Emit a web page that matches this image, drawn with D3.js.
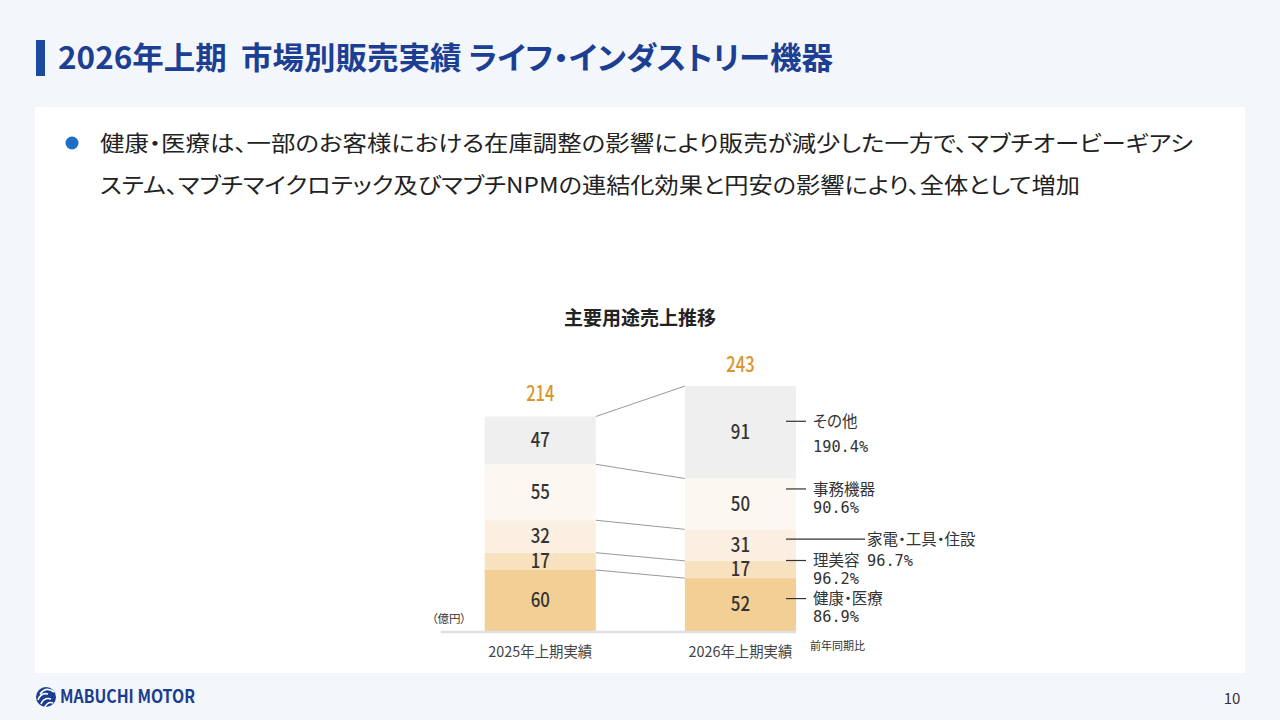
<!DOCTYPE html>
<html lang="ja">
<head>
<meta charset="utf-8">
<script src="https://cdn.jsdelivr.net/npm/d3@7"></script>
<style>
  html, body { margin: 0; padding: 0; background: #f3f6fb; }
  svg { display: block; font-family: "Noto Sans CJK JP", "Noto Sans", sans-serif; }
  svg text { font-feature-settings: "palt"; white-space: pre; }
</style>
</head>
<body>
<div id="chart"></div>
<script>
// data
const periods = ["2025年上期実績", "2026年上期実績"];
const segments = ["健康・医療", "理美容", "家電・工具・住設", "事務機器", "その他"];
const sales2025 = [60, 17, 32, 55, 47];
const sales2026 = [52, 17, 31, 50, 91];
const totals = [214, 243];
const yoyRatio = ["86.9%", "96.2%", "96.7%", "90.6%", "190.4%"];

const colors = ["#f2cf94", "#f7e1be", "#faefe0", "#fcf8f1", "#efefef"];

const width = 1280, height = 720;

const svg = d3.select("#chart").append("svg")
  .attr("width", width)
  .attr("height", height)
  .attr("viewBox", `0 0 ${width} ${height}`);

// page frame
svg.append("rect").attr("width", width).attr("height", height).attr("fill", "#f3f6fb");
svg.append("rect").attr("x", 35).attr("y", 107).attr("width", 1210).attr("height", 566).attr("fill", "#fff");

// heading
svg.append("rect").attr("x", 36).attr("y", 40).attr("width", 9).attr("height", 36).attr("fill", "#1b4aa0");
svg.append("text")
  .attr("x", 58).attr("y", 58).attr("dy", "0.36em")
  .attr("font-size", 31).attr("font-weight", 700).attr("fill", "#1c3f94")
  .attr("textLength", 775).attr("lengthAdjust", "spacingAndGlyphs")
  .text("2026年上期  市場別販売実績 ライフ・インダストリー機器");

// bullet text
svg.append("circle").attr("cx", 72).attr("cy", 143).attr("r", 6.5).attr("fill", "#1d6fc4");
const bodyLines = [
  "健康・医療は、一部のお客様における在庫調整の影響により販売が減少した一方で、マブチオービーギアシ",
  "ステム、マブチマイクロテック及びマブチNPMの連結化効果と円安の影響により、全体として増加"
];
const bodyWidths = [1093, 980];
bodyLines.forEach((t, i) => {
  svg.append("text")
    .attr("x", 100).attr("y", 143 + i * 42).attr("dy", "0.36em")
    .attr("font-size", 22).attr("fill", "#222")
    .attr("textLength", bodyWidths[i]).attr("lengthAdjust", "spacingAndGlyphs")
    .text(t);
});

// chart title
svg.append("text")
  .attr("x", 640).attr("y", 318).attr("dy", "0.36em")
  .attr("text-anchor", "middle")
  .attr("font-size", 19).attr("font-weight", 700).attr("fill", "#222")
  .text("主要用途売上推移");

// scales
const x = d3.scaleBand().domain(periods).range([484.7, 796]).paddingInner(0.445).paddingOuter(0);
const y = d3.scaleLinear().domain([0, 243]).range([631, 384]);

const rows = segments.map((s, i) => ({ segment: s, [periods[0]]: sales2025[i], [periods[1]]: sales2026[i] }));
// cumulative layers per period
const byPeriod = periods.map(p => {
  let acc = 0;
  return rows.map((r, i) => {
    const y0 = acc; acc += r[p];
    return { period: p, segment: r.segment, idx: i, value: r[p], y0, y1: acc };
  });
});

// connector lines between bars (segment tops)
const linkData = segments.map((s, i) => ({ a: byPeriod[0][i].y1, b: byPeriod[1][i].y1 }));
svg.append("g").selectAll("line").data(linkData).join("line")
  .attr("x1", x(periods[0]) + x.bandwidth())
  .attr("x2", x(periods[1]))
  .attr("y1", d => y(d.a))
  .attr("y2", d => y(d.b))
  .attr("stroke", "#999").attr("stroke-width", 1);

// bars
const groups = svg.append("g").selectAll("g").data(byPeriod).join("g");
groups.selectAll("rect").data(d => d).join("rect")
  .attr("x", d => x(d.period))
  .attr("width", x.bandwidth())
  .attr("y", d => y(d.y1))
  .attr("height", d => y(d.y0) - y(d.y1))
  .attr("fill", d => colors[d.idx]);

// narrow digits, like the condensed face on the slide
groups.selectAll("text").data(d => d).join("text")
  .attr("x", d => x(d.period) + x.bandwidth() / 2)
  .attr("y", d => y((d.y0 + d.y1) / 2)).attr("dy", "0.35em")
  .attr("text-anchor", "middle")
  .attr("font-size", 19.5).attr("font-weight", 500).attr("fill", "#333")
  .attr("textLength", d => String(d.value).length * 9.6)
  .attr("lengthAdjust", "spacingAndGlyphs")
  .text(d => d.value);

// totals
svg.append("g").selectAll("text").data(totals).join("text")
  .attr("x", (d, i) => x(periods[i]) + x.bandwidth() / 2)
  .attr("y", d => y(d) - 20).attr("dy", "0.36em")
  .attr("text-anchor", "middle")
  .attr("font-size", 21).attr("font-weight", 500).attr("fill", "#d9962a")
  .attr("textLength", d => String(d).length * 9.4)
  .attr("lengthAdjust", "spacingAndGlyphs")
  .text(d => d);

// baseline
svg.append("line")
  .attr("x1", 441).attr("x2", 796)
  .attr("y1", y(0) + 1).attr("y2", y(0) + 1)
  .attr("stroke", "#e0e0e0").attr("stroke-width", 2.5);

// axis labels
svg.append("g").selectAll("text").data(periods).join("text")
  .attr("x", d => x(d) + x.bandwidth() / 2)
  .attr("y", 652).attr("dy", "0.36em")
  .attr("text-anchor", "middle")
  .attr("font-size", 15).attr("fill", "#444")
  .attr("textLength", 104).attr("lengthAdjust", "spacingAndGlyphs")
  .text(d => d);

svg.append("text")
  .attr("x", 449).attr("y", 619).attr("dy", "0.36em")
  .attr("text-anchor", "middle")
  .attr("font-size", 11.5).attr("fill", "#333")
  .text("（億円）");

svg.append("text")
  .attr("x", 810).attr("y", 646).attr("dy", "0.36em")
  .attr("font-size", 11).attr("fill", "#333")
  .text("前年同期比");

// segment labels to the right of the 2026 bar
const labelShift = [-6, -9, -6, -15, -11];
const last = byPeriod[1];
const labelLayer = svg.append("g");
last.forEach((d, i) => {
  const ly = y((d.y0 + d.y1) / 2) + labelShift[i];
  const wide = d.segment === "家電・工具・住設";
  const lineEnd = wide ? 865 : 806;
  const tx = wide ? 867 : 813;
  labelLayer.append("line")
    .attr("x1", 786).attr("x2", lineEnd)
    .attr("y1", ly).attr("y2", ly)
    .attr("stroke", "#333").attr("stroke-width", 1.2);
  labelLayer.append("text")
    .attr("x", tx).attr("y", ly).attr("dy", "0.36em")
    .attr("font-size", 15.5).attr("fill", "#333")
    .text(d.segment);
  const pGap = d.segment === "その他" ? 25 : (wide ? 21 : 18);
  labelLayer.append("text")
    .attr("x", tx).attr("y", ly + pGap).attr("dy", "0.36em")
    .attr("font-family", '"DejaVu Sans Mono", monospace')
    .attr("font-size", 16).attr("fill", "#333")
    .attr("textLength", yoyRatio[i].length * 9.2)
    .attr("lengthAdjust", "spacingAndGlyphs")
    .text(yoyRatio[i]);
});

// footer logo
const logo = svg.append("g");
logo.append("circle").attr("cx", 46).attr("cy", 697).attr("r", 10).attr("fill", "#1a3d8f");
logo.append("path")
  .attr("d", "M38,700 q3,-8 10,-6 M41,704 q3,-7 10,-5 M45,707 q3,-6 8,-4 M40,694 q6,-8 14,-2")
  .attr("fill", "none").attr("stroke", "#fff").attr("stroke-width", 1.6);
logo.append("text")
  .attr("x", 60).attr("y", 697).attr("dy", "0.36em")
  .attr("font-size", 18).attr("font-weight", 700).attr("fill", "#1a3d8f")
  .attr("textLength", 135).attr("lengthAdjust", "spacingAndGlyphs")
  .text("MABUCHI MOTOR");

svg.append("text")
  .attr("x", 1232).attr("y", 699).attr("dy", "0.36em")
  .attr("text-anchor", "middle")
  .attr("font-size", 15).attr("fill", "#333")
  .text("10");
</script>
</body>
</html>
